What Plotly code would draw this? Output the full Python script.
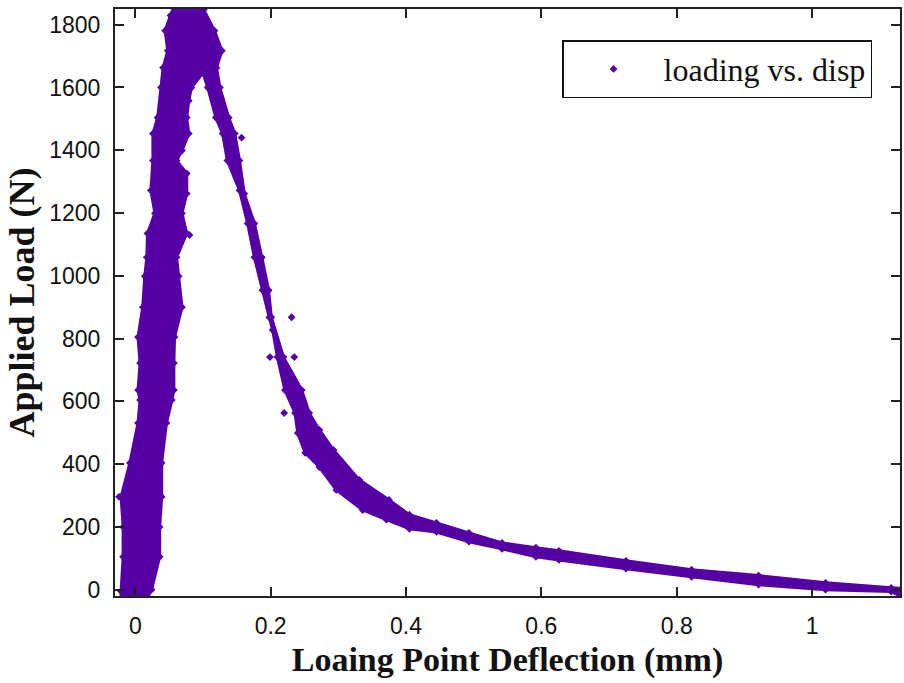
import plotly.graph_objects as go

band_x = [-0.021, -0.021, -0.018, -0.018, -0.021, -0.008, 0.004, 0.007, 0.004, 0.007, 0.004,
          0.011, 0.014, 0.017, 0.018, 0.029, 0.023, 0.026, 0.026, 0.033, 0.038, 0.041, 0.048,
          0.044, 0.052, 0.060,
          0.101, 0.101, 0.117, 0.128, 0.120, 0.125, 0.138, 0.147, 0.154, 0.161, 0.176, 0.187,
          0.197, 0.201, 0.219, 0.246, 0.257, 0.272, 0.293, 0.331,
          0.375, 0.405, 0.445, 0.493, 0.542, 0.592, 0.626, 0.725, 0.822, 0.921, 1.020, 1.117, 1.142,
          1.142, 1.117, 1.020, 0.921, 0.822, 0.725, 0.626, 0.592, 0.542, 0.493, 0.445, 0.405,
          0.371, 0.336, 0.297,
          0.272, 0.251, 0.240, 0.236, 0.221, 0.210, 0.203, 0.198, 0.188, 0.176, 0.166, 0.154,
          0.136, 0.129, 0.119, 0.107, 0.100,
          0.083, 0.079, 0.076, 0.079, 0.069, 0.061, 0.076, 0.076, 0.069, 0.076, 0.061, 0.064,
          0.069, 0.058, 0.057, 0.057, 0.054, 0.046, 0.039, 0.039, 0.036, 0.036, 0.024, 0.017]
band_y = [-30, -5, 105, 200, 296, 404, 531, 604, 636, 722, 805,
          900, 999, 1059, 1135, 1199, 1272, 1367, 1453, 1504, 1600, 1663, 1717,
          1781, 1829, 1876,
          1876, 1848, 1781, 1717, 1663, 1600, 1504, 1453, 1367, 1262, 1167, 1059,
          954, 868, 741, 636, 563, 509, 445, 350,
          286, 239, 213, 181, 149, 134, 124, 92, 64, 45, 22, 6, 3,
          -32, -6, 0, 16, 41, 67, 95, 105, 130, 153, 184, 194,
          223, 254, 318,
          391, 436, 499, 563, 636, 741, 827, 868, 954, 1059, 1167, 1272,
          1367, 1453, 1504, 1600, 1647,
          1600, 1558, 1504, 1453, 1399, 1367, 1326, 1262, 1199, 1135, 1059, 999,
          900, 805, 722, 636, 604, 531, 404, 296, 200, 105, 0, -30]

# Stray points sticking out of the band
spike_x = [0.231, 0.235, 0.220, 0.199, 0.157, -0.024, 0.080, 0.040]
spike_y = [868, 741, 563, 741, 1440, 296, 1130, 1205]

x_ticks = [0, 0.2, 0.4, 0.6, 0.8, 1]
x_tick_text = ["0", "0.2", "0.4", "0.6", "0.8", "1"]
y_ticks = [0, 200, 400, 600, 800, 1000, 1200, 1400, 1600, 1800]

color = "#5500A5"

fig = go.Figure()
fig.add_trace(go.Scatter(x=band_x, y=band_y, mode="lines", fill="toself",
                         fillcolor=color, line=dict(color=color, width=3, simplify=False),
                         showlegend=False, hoverinfo="skip"))
fig.add_trace(go.Scatter(x=band_x + spike_x, y=band_y + spike_y, mode="markers",
                         name="loading vs. disp",
                         marker=dict(symbol="diamond", size=6, color=color, line=dict(width=0))))

axis_common = dict(showgrid=False, zeroline=False, showline=True, linecolor="#222",
                   linewidth=2, mirror="ticks", ticks="inside", ticklen=9, tickwidth=1.5,
                   tickcolor="#222", tickfont=dict(family="Liberation Sans", size=23, color="#111"))

fig.update_layout(
    width=904, height=683,
    margin=dict(l=115, r=2, t=9, b=87),
    paper_bgcolor="white", plot_bgcolor="white",
    xaxis=dict(range=[-0.03, 1.13], tickvals=x_ticks, ticktext=x_tick_text,
               ticklabelstandoff=8,
               title=dict(text="<b>Loaing Point Deflection (mm)</b>", standoff=10,
                          font=dict(family="Liberation Serif", size=34, color="#111")),
               **axis_common),
    yaxis=dict(range=[-20, 1850], tickvals=y_ticks, ticklabelstandoff=8,
               title=dict(text="<b>Applied Load (N)</b>", standoff=4,
                          font=dict(family="Liberation Serif", size=36, color="#111")),
               **axis_common),
    legend=dict(x=0.9644, y=0.947, xanchor="right", yanchor="top",
                bgcolor="white", bordercolor="#111", borderwidth=1.5,
                itemwidth=90,
                font=dict(family="Liberation Serif", size=32, color="#111")),
)

fig.write_html("out.html")
